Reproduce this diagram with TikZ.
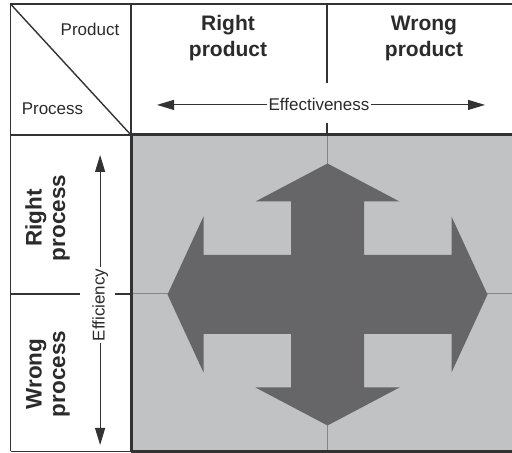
\documentclass[tikz,border=0pt]{standalone}
\usepackage{fontspec}
\setmainfont{Liberation Sans}
\usetikzlibrary{arrows.meta}
\definecolor{ln}{HTML}{333333}
\definecolor{bg}{HTML}{C1C2C4}
\definecolor{cr}{HTML}{666668}
\definecolor{mid}{HTML}{85868A}
\definecolor{tx}{HTML}{2B2B2B}
\begin{document}
\begin{tikzpicture}[x=1pt,y=1pt,
  thinline/.style={draw=ln, line width=1.4pt},
  thickline/.style={draw=ln, line width=3pt},
  midline/.style={draw=mid, line width=1pt},
  lbl/.style={font=\fontsize{17}{20}\selectfont, text=tx, inner sep=1.5pt},
  head/.style={font=\fontsize{21}{24}\selectfont\bfseries, text=tx, inner sep=0pt},
  vhead/.style={font=\fontsize{22.5}{26}\selectfont\bfseries, text=tx, inner sep=0pt, rotate=90, anchor=base},
  ax/.style={draw=ln, line width=1.1pt, -{Triangle[length=17pt,width=10pt]}}]
\useasboundingbox (0,0) rectangle (512,453);
\fill[white] (0,0) rectangle (512,453);
% gray field
\fill[bg] (131,1.5) rectangle (512,318);
\draw[midline] (327,318) -- (327,1.5);
\draw[midline] (131,159) -- (512,159);
% cross arrow
\begin{scope}[shift={(327.5,158.5)}]
\fill[cr] (0,131) -- (72,93) -- (36.5,93) -- (36.5,39.5) -- (124,39.5) -- (124,78)
  -- (160,0) -- (124,-78) -- (124,-39.5) -- (36.5,-39.5) -- (36.5,-93) -- (72,-93)
  -- (0,-131) -- (-72,-93) -- (-36.5,-93) -- (-36.5,-39.5) -- (-124,-39.5) -- (-124,-78)
  -- (-160,0) -- (-124,78) -- (-124,39.5) -- (-36.5,39.5) -- (-36.5,93) -- (-72,93) -- cycle;
\end{scope}
% frame
\draw[thinline] (10.5,1.5) -- (10.5,449) -- (512,449);
\draw[thinline] (10.5,449) -- (131,318);
\draw[thinline] (131,449) -- (131,318);
\draw[thinline] (10.5,318) -- (131,318);
\draw[thinline] (10.5,1.5) -- (131,1.5);
\draw[thickline] (131,318) -- (512,318);
\draw[thickline] (131,319.5) -- (131,1.5);
\draw[thickline] (131,1.5) -- (512,1.5);
\draw[thinline] (327,449) -- (327,370);
\draw[thinline] (327,330) -- (327,318);
\draw[thinline] (10.5,159) -- (80,159);
\draw[thinline] (115,159) -- (131,159);
% corner labels
\node[lbl, anchor=base] (prod) at (90,417) {Product};
\node[lbl, anchor=base] (proc) at (52.5,338) {Process};
% column heads
\node[head, anchor=base] (rp1) at (228,422) {Right};
\node[head, anchor=base] (rp2) at (228,396) {product};
\node[head, anchor=base] (wp1) at (424,422) {Wrong};
\node[head, anchor=base] (wp2) at (424,396) {product};
% row heads
\node[vhead] (rr1) at (41.5,235) {Right};
\node[vhead] (rr2) at (65,235) {process};
\node[vhead] (wr1) at (41.5,79) {Wrong};
\node[vhead] (wr2) at (65,79) {process};
% effectiveness axis
\node[lbl, anchor=base] (eff) at (319,342) {Effectiveness};
\coordinate (effL) at (157,347);
\coordinate (effR) at (485,347);
\draw[ax] (eff.west) -- (eff.west -| effL);
\draw[ax] (eff.east) -- (eff.east -| effR);
% efficiency axis
\node[lbl, rotate=90, anchor=base] (efc) at (104.5,148) {Efficiency};
\coordinate (efcT) at (100,298);
\coordinate (efcB) at (100,8);
\draw[ax] (efc.east) -- (efc.east |- efcT);
\draw[ax] (efc.west) -- (efc.west |- efcB);
\end{tikzpicture}
\end{document}
